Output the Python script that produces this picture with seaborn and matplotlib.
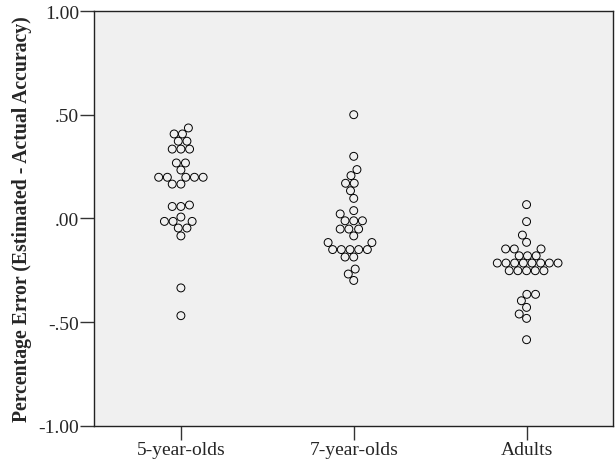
import matplotlib
matplotlib.use("Agg")
import matplotlib.pyplot as plt
import seaborn as sns
import pandas as pd

categories = ["5-year-olds", "7-year-olds", "Adults"]

five_year_olds = [0.437, 0.408, 0.408, 0.373, 0.373, 0.335, 0.335, 0.335,
                  0.268, 0.268, 0.234, 0.199, 0.199, 0.199, 0.199, 0.199,
                  0.166, 0.166, 0.058, 0.065, 0.058, 0.007, -0.014, -0.014,
                  -0.014, -0.046, -0.046, -0.084, -0.335, -0.469]

seven_year_olds = [0.501, 0.300, 0.236, 0.207, 0.170, 0.170, 0.134, 0.097,
                   0.038, 0.022, -0.011, -0.011, -0.011, -0.051, -0.051,
                   -0.051, -0.084, -0.116, -0.116, -0.150, -0.150, -0.150,
                   -0.150, -0.150, -0.186, -0.186, -0.244, -0.268, -0.299]

adults = [0.067, -0.015, -0.080, -0.115, -0.147, -0.147, -0.147, -0.180,
          -0.180, -0.180, -0.215, -0.215, -0.215, -0.215, -0.215, -0.215,
          -0.215, -0.215, -0.252, -0.252, -0.252, -0.252, -0.252, -0.366,
          -0.366, -0.397, -0.429, -0.461, -0.482, -0.585]

y_ticks = [1.0, 0.5, 0.0, -0.5, -1.0]
y_tick_labels = ["1.00", ".50", ".00", "-.50", "-1.00"]

df = pd.DataFrame({
    "group": [categories[0]] * len(five_year_olds)
             + [categories[1]] * len(seven_year_olds)
             + [categories[2]] * len(adults),
    "value": five_year_olds + seven_year_olds + adults,
})

sns.set_style("ticks")
plt.rcParams["font.family"] = ["Liberation Serif", "DejaVu Serif"]

fig = plt.figure(figsize=(6.16, 4.64), dpi=100)
ax = fig.add_axes([0.1534, 0.0804, 0.8417, 0.8931])
ax.set_facecolor("#F0F0F0")

# swarm layout computed with a slightly smaller footprint, so that close
# rows overlap a little as in the original dot plot
sns.swarmplot(data=df, x="group", y="value", order=categories, ax=ax,
              size=5.25, color="black", facecolor="none",
              edgecolor="black", linewidth=0.7)

ax.set_xlim(-0.5, 2.5)
ax.set_ylim(-1.0, 1.0)
ax.set_yticks(y_ticks)
ax.set_yticklabels(y_tick_labels)
ax.set_xlabel("")
ax.set_ylabel("Percentage Error (Estimated - Actual Accuracy)",
              fontsize=14.2, fontweight="bold", labelpad=5)
ax.tick_params(axis="both", labelsize=14, length=10, width=1.0,
               color="#333333", pad=1)
for s in ax.spines.values():
    s.set_visible(True)
    s.set_color("#222222")
    s.set_linewidth(1.0)

fig.canvas.draw()
for coll in ax.collections:
    if "draw" in coll.__dict__:
        del coll.draw
    coll.set_sizes([5.7 ** 2])

fig.savefig("out.png", dpi=100)
